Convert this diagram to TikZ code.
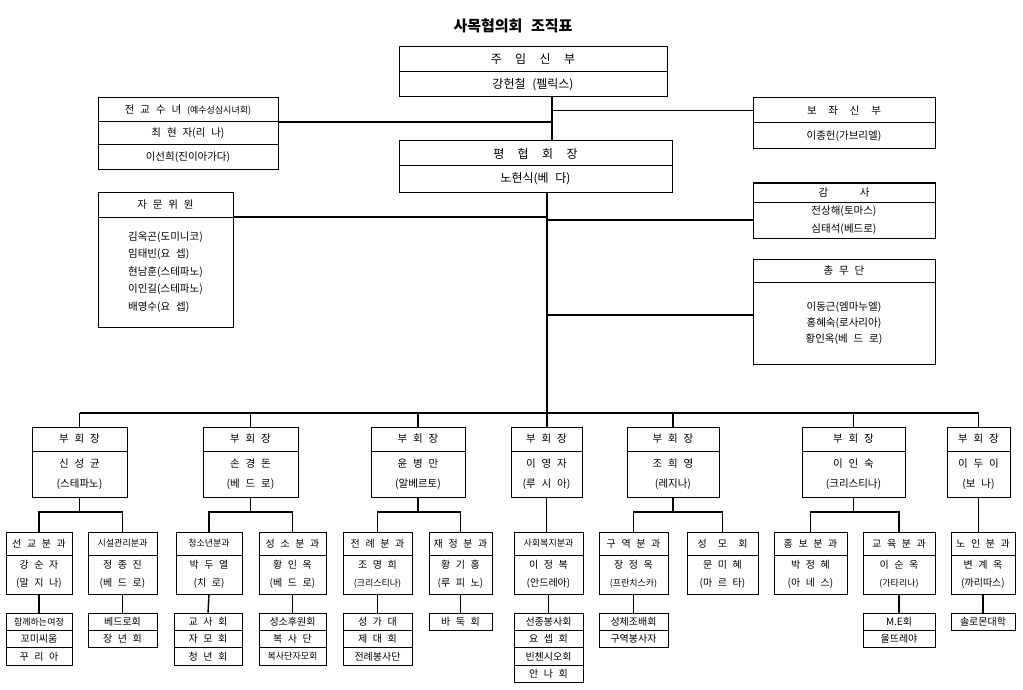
\documentclass[tikz,border=0pt]{standalone}
\usepackage{fontspec}
\newfontfamily\kr[WordSpace=2.5]{Noto Sans CJK KR}
\newcommand{\smalltxt}{\fontsize{9}{11}\selectfont}
\usetikzlibrary{positioning}
\tikzset{
  cell/.style={draw,rectangle,outer sep=0pt,inner sep=0pt,line width=1pt,anchor=north west,font=\kr\fontsize{10.5}{12}\selectfont},
  big/.style={cell,font=\kr\fontsize{12}{14}\selectfont},
  kid/.style={cell,font=\kr\fontsize{10}{12}\selectfont},
  item/.style={cell,minimum height=17.4,font=\kr\fontsize{10}{12}\selectfont},
  link/.style={line width=1.4pt}
}
\begin{document}
\begin{tikzpicture}[x=1pt,y=-1pt]
\useasboundingbox (0,0) rectangle (1023,690);
\node[font=\kr\bfseries\fontsize{15}{18}\selectfont] (title) at (513,26) {사목협의회 조직표};
% top
\node[big,minimum width=268,minimum height=25] (pp) at (399,47) {주\ \ 임\ \ 신\ \ 부};
\node[big,minimum width=268,minimum height=25,below=0pt of pp] (ppb) {강헌철 (펠릭스)};
\node[big,minimum width=273,minimum height=25] (pr) at (399,141) {평\ \ 협\ \ 회\ \ 장};
\node[big,minimum width=273,minimum height=26,below=0pt of pr] (prb) {노현식(베 다)};
\node[cell,minimum width=180,minimum height=24] (ms) at (98,98) {전 교 수 녀 {\smalltxt(예수성심시녀회)}};
\node[cell,minimum width=180,minimum height=23,below=0pt of ms] (msb) {최 현 자(리 나)};
\node[cell,minimum width=180,minimum height=25,below=0pt of msb] (msc) {이선희(진이아가다)};
\node[cell,minimum width=182,minimum height=25] (bj) at (753,98) {보\ \ 좌\ \ 신\ \ 부};
\node[cell,minimum width=182,minimum height=26,below=0pt of bj] (bjb) {이종헌(가브리엘)};
% side boxes
\node[cell,minimum width=135,minimum height=25] (ja) at (98,192) {자 문 위 원};
\node[cell,minimum width=135,minimum height=110,below=0pt of ja,align=left,font=\kr\fontsize{10.5}{17.5}\selectfont] (jab)
  {김옥곤(도미니코)\\임태빈(요 셉)\\현남훈(스테파노)\\이인길(스테파노)\\배영수(요 셉)};
\node[cell,minimum width=182,minimum height=19] (gs) at (753,183) {감\hspace{3em}사};
\node[cell,minimum width=182,minimum height=36,below=0pt of gs,align=center,font=\kr\fontsize{10.5}{18}\selectfont] (gsb)
  {전상해(토마스)\\심태석(베드로)};
\node[cell,minimum width=182,minimum height=23] (cm) at (753,259) {총 무 단};
\node[cell,minimum width=182,minimum height=82,below=0pt of cm,align=center,font=\kr\fontsize{10.5}{16}\selectfont] (cmb)
  {이동근(엠마누엘)\\홍혜숙(로사리아)\\황인옥(베 드 로)};
% vice chairs
\foreach \n/\x/\w/\nm/\bn in {1/32/95/신 성 균/(스테파노),2/203/95/손 경 돈/(베 드 로),3/371/94/윤 병 만/(알베르토),
  4/511/71/이 영 자/(루 시 아),5/627/92/조 희 영/(레지나),6/802/103/이 인 숙/(크리스티나),7/947/63/이 두 이/(보 나)}{
  \node[cell,minimum width=\w,minimum height=24] (v\n) at (\x,427) {부 회 장};
  \node[cell,minimum width=\w,minimum height=46,below=0pt of v\n,align=center,font=\kr\fontsize{10.5}{20}\selectfont] (vb\n) {\nm\\\bn};
}
% sections
\foreach \n/\x/\w/\hd/\nm/\bn in {1/6/66/선 교 분 과/강 순 자/(말 지 나),2/88/69/\smalltxt 시설관리분과/정 종 진/(베 드 로),
  3/176/66/\smalltxt 청소년분과/박 두 열/(치 로),4/259/67/성 소 분 과/황 인 옥/(베 드 로),
  5/343/69/전 례 분 과/조 명 희/{\smalltxt(크리스티나)},6/429/63/재 정 분 과/황 기 홍/(루 피 노),
  7/514/69/\smalltxt 사회복지분과/이 정 복/(안드레아),8/599/69/구 역 분 과/장 정 옥/{\smalltxt(프란치스카)},
  9/687/71/성\ \ 모\ \ 회/문 미 혜/(마 르 타),10/774/73/홍 보 분 과/박 정 혜/(아 네 스),
  11/863/72/교 육 분 과/이 순 옥/{\smalltxt(가타리나)},12/951/64/노 인 분 과/변 계 옥/(까리따스)}{
  \node[kid,minimum width=\w,minimum height=23] (c\n) at (\x,532) {\hd};
  \node[kid,minimum width=\w,minimum height=39,below=0pt of c\n,align=center,font=\kr\fontsize{10}{18}\selectfont] (cb\n) {\nm\\\bn};
}
% groups
\foreach \n/\x/\w/\items in {1/6/66/{{\smalltxt 함께하는여정},꼬미씨움,꾸 리 아},2/88/69/{베드로회,장 년 회},
  3/174/68/{교 사 회,자 모 회,청 년 회},4/259/67/{성소후원회,복 사 단,{\smalltxt 복사단자모회}},
  5/343/69/{성 가 대,제 대 회,전례봉사단},6/429/63/{바 둑 회},7/514/69/{선종봉사회,요 셉 회,빈첸시오회,안 나 회},
  8/599/69/{성체조배회,구역봉사자},11/863/72/{M.E회,울뜨레야},12/951/64/{솔로몬대학}}{
  \foreach \t [count=\i] in \items
    \node[item,minimum width=\w] (l\n-\i) at (\x,{613+17.4*(\i-1)}) {\t};
}
% links
\coordinate (tp) at (552,110);
\coordinate (spine) at (547,413);
\draw[link] (ppb.south -| tp) -- (pr.north -| tp);
\draw[link] (bj.west -| tp) -- (bj.west);
\draw[link] (ms.south east) -- (ms.south east -| tp);
\draw[link] (prb.south -| spine) -- (v4.north -| spine);
\draw[link] (jab.north east) -- (jab.north east -| spine);
\draw[link] (gsb.west -| spine) -- (gsb.west);
\path ([yshift=8pt]cmb.west) coordinate (tm);
\draw[link] (tm -| spine) -- (tm);
\draw[link] (v1.north |- spine) -- (v7.north |- spine);
\foreach \n in {1,...,7} \draw[link] (v\n.north) -- (v\n.north |- spine);
\foreach \v/\a/\b in {1/1/2,2/3/4,3/5/6,5/8/9,6/10/11}{
  \draw[link] (vb\v.south) -- ++(0,15) coordinate (k\v);
  \draw[link] (c\a.north) |- (k\v) -| (c\b.north);
}
\draw[link] (vb4.south) -- (vb4.south |- c7.north);
\draw[link] (vb7.south) -- (vb7.south |- c12.north);
\foreach \n in {1,2,3,4,5,6,7,8,11,12} \draw[link] (cb\n.south) -- (l\n-1.north);
\end{tikzpicture}
\end{document}
